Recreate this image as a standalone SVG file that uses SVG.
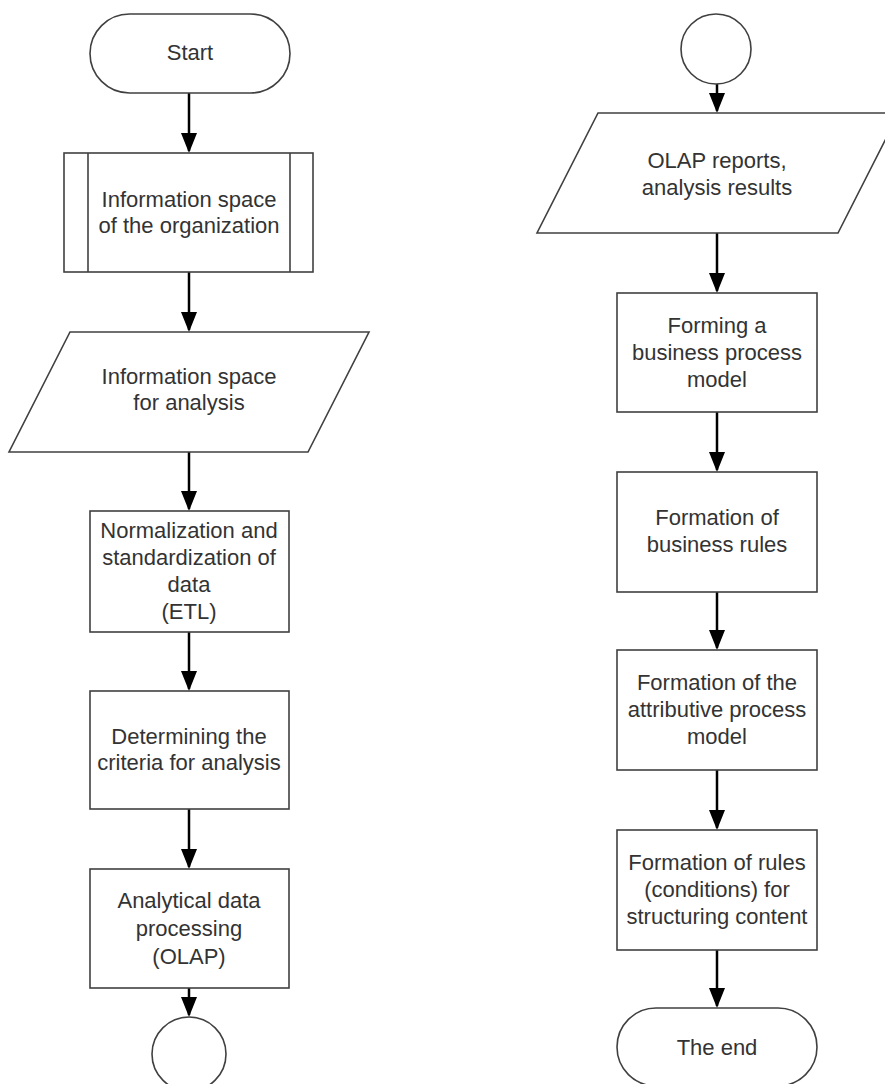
<svg xmlns="http://www.w3.org/2000/svg" width="885" height="1084" viewBox="0 0 885 1084">
<style>
.s{fill:#fff;stroke:#404040;stroke-width:1.6}
.t{font-family:"Liberation Sans",Arial,sans-serif;font-size:22px;fill:#333;text-anchor:middle}
.c{stroke:#000;stroke-width:2.5;fill:none;marker-end:url(#ah)}
</style>
<defs>
<marker id="ah" markerUnits="userSpaceOnUse" markerWidth="20" markerHeight="16" refX="18" refY="8" orient="auto" viewBox="0 0 20 16">
<path d="M0,0 L20,8 L0,16 z" fill="#000"/>
</marker>
</defs>
<rect width="885" height="1084" fill="#fff"/>
<g id="connectors">
<line class="c" x1="189" y1="93" x2="189" y2="151"/>
<line class="c" x1="189" y1="272" x2="189" y2="330"/>
<line class="c" x1="189" y1="452" x2="189" y2="509"/>
<line class="c" x1="189" y1="632" x2="189" y2="689"/>
<line class="c" x1="189" y1="809" x2="189" y2="867"/>
<line class="c" x1="189" y1="988" x2="189" y2="1015"/>
<line class="c" x1="717" y1="84" x2="717" y2="111"/>
<line class="c" x1="717" y1="233" x2="717" y2="291"/>
<line class="c" x1="717" y1="412" x2="717" y2="470"/>
<line class="c" x1="717" y1="592" x2="717" y2="648"/>
<line class="c" x1="717" y1="770" x2="717" y2="828"/>
<line class="c" x1="717" y1="950" x2="717" y2="1006"/>
</g>
<g id="start">
<rect class="s" x="90" y="14" width="200" height="79" rx="39.5"/>
<text class="t" x="190" y="60">Start</text>
</g>
<g id="info-org">
<rect class="s" x="64" y="153" width="249" height="119"/>
<line class="s" x1="88" y1="153" x2="88" y2="272"/>
<line class="s" x1="290" y1="153" x2="290" y2="272"/>
<text class="t" x="189" y="207">Information space</text>
<text class="t" x="189" y="233">of the organization</text>
</g>
<g id="info-analysis">
<polygon class="s" points="70,332 369,332 308,452 9,452"/>
<text class="t" x="189" y="384">Information space</text>
<text class="t" x="189" y="410">for analysis</text>
</g>
<g id="etl">
<rect class="s" x="90" y="511" width="199" height="121"/>
<text class="t" x="189" y="538">Normalization and</text>
<text class="t" x="189" y="565">standardization of</text>
<text class="t" x="189" y="592">data</text>
<text class="t" x="189" y="619">(ETL)</text>
</g>
<g id="criteria">
<rect class="s" x="90" y="691" width="199" height="118"/>
<text class="t" x="189" y="744">Determining the</text>
<text class="t" x="189" y="770">criteria for analysis</text>
</g>
<g id="olap">
<rect class="s" x="90" y="869" width="199" height="119"/>
<text class="t" x="189" y="908">Analytical data</text>
<text class="t" x="189" y="936">processing</text>
<text class="t" x="189" y="964">(OLAP)</text>
</g>
<g id="connector-out">
<circle class="s" cx="189" cy="1054" r="37"/>
</g>
<g id="connector-in">
<circle class="s" cx="716" cy="49" r="35"/>
</g>
<g id="olap-reports">
<polygon class="s" points="598,113 899,113 838,233 537,233"/>
<text class="t" x="717" y="168">OLAP reports,</text>
<text class="t" x="717" y="195">analysis results</text>
</g>
<g id="bp-model">
<rect class="s" x="617" y="293" width="200" height="119"/>
<text class="t" x="717" y="333">Forming a</text>
<text class="t" x="717" y="360">business process</text>
<text class="t" x="717" y="387">model</text>
</g>
<g id="business-rules">
<rect class="s" x="617" y="472" width="200" height="120"/>
<text class="t" x="717" y="525">Formation of</text>
<text class="t" x="717" y="552">business rules</text>
</g>
<g id="attr-model">
<rect class="s" x="617" y="650" width="200" height="120"/>
<text class="t" x="717" y="690">Formation of the</text>
<text class="t" x="717" y="717">attributive process</text>
<text class="t" x="717" y="744">model</text>
</g>
<g id="content-rules">
<rect class="s" x="617" y="830" width="200" height="120"/>
<text class="t" x="717" y="870">Formation of rules</text>
<text class="t" x="717" y="897">(conditions) for</text>
<text class="t" x="717" y="924">structuring content</text>
</g>
<g id="end">
<rect class="s" x="617" y="1008" width="200" height="78" rx="39"/>
<text class="t" x="717" y="1055">The end</text>
</g>
</svg>
